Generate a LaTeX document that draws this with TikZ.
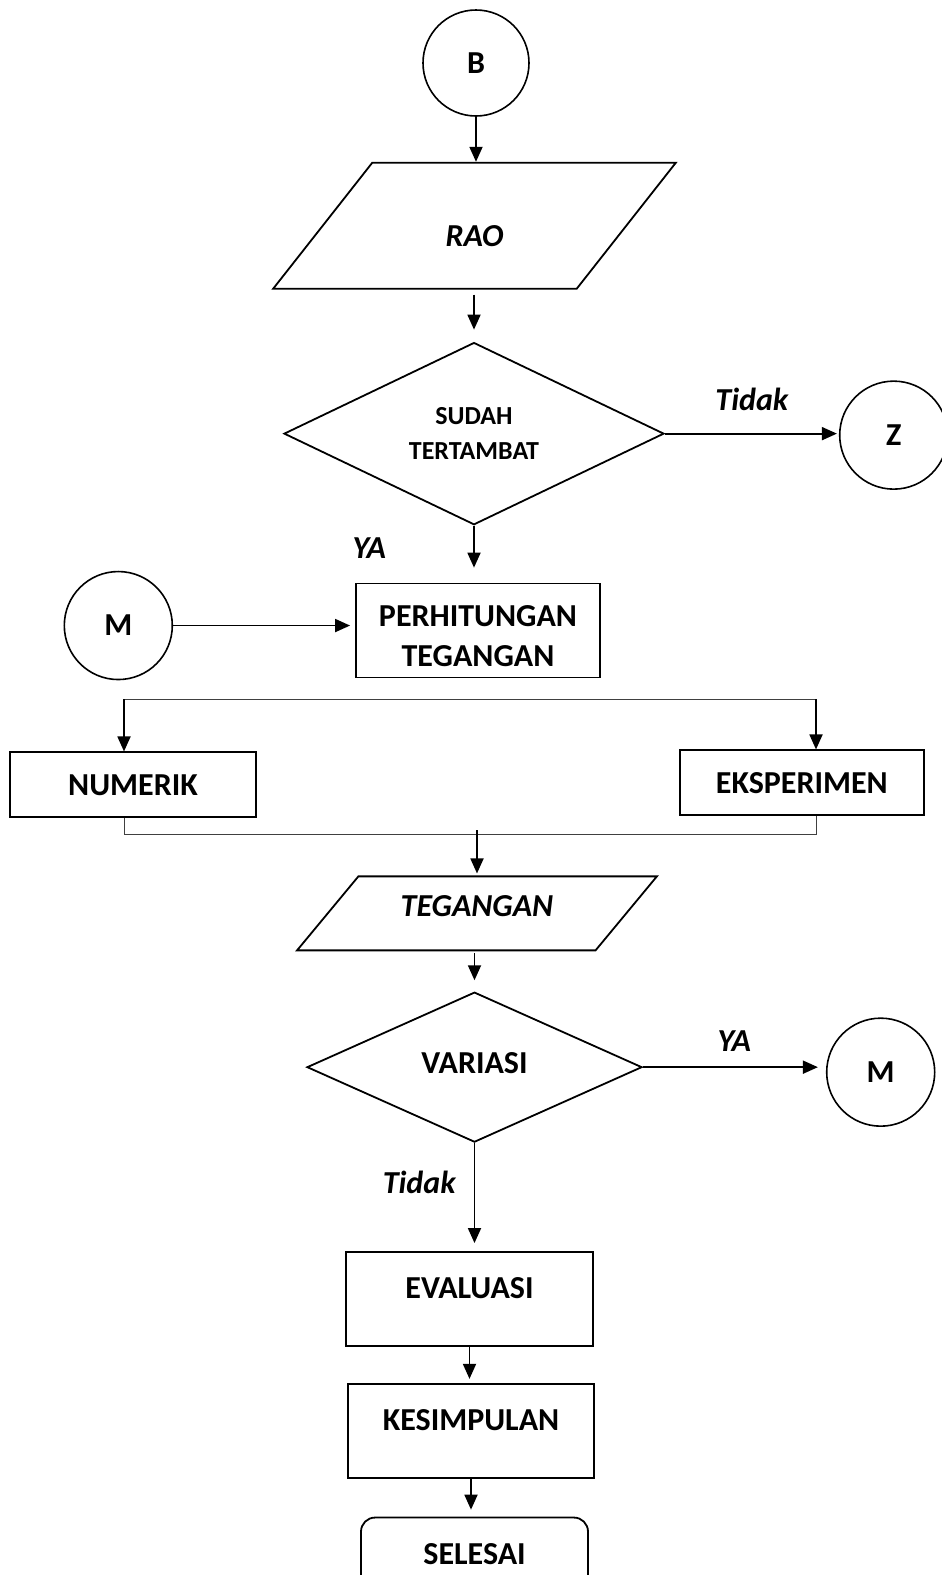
\documentclass[tikz,border=0pt]{standalone}
\usepackage{fontspec}
\setmainfont{Carlito}
\usetikzlibrary{shapes.geometric, arrows.meta, positioning}

\begin{document}
\begin{tikzpicture}[x=1pt, y=1pt,
  node distance=40pt,
  every node/.style={font=\bfseries\fontsize{32}{40}\selectfont},
  process/.style={rectangle, draw, line width=1.8pt,
                  minimum width=246pt, minimum height=94pt,
                  inner sep=4pt, align=center},
  connector/.style={circle, draw, line width=1.6pt,
                    minimum size=108pt, inner sep=0pt},
  io/.style={trapezium, draw, line width=1.8pt, trapezium stretches=true,
             inner sep=4pt, font=\bfseries\itshape\fontsize{32}{40}\selectfont},
  decision/.style={diamond, draw, line width=1.8pt, inner sep=0pt, align=center},
  terminal/.style={rectangle, rounded corners=14pt, draw, line width=1.8pt,
                   minimum width=227pt, minimum height=74pt},
  answer/.style={font=\bfseries\itshape\fontsize{32}{36}\selectfont, inner sep=2pt},
  flow/.style={-{Triangle[length=15pt, width=13pt]}, line width=1.8pt},
  branch/.style={line width=0.9pt, black!75},
]
  \useasboundingbox (0,0) rectangle (942,-1575);

  % input and first check
  \node[connector, minimum size=106pt] (b) at (476,-63) {B};
  \node[io, below=45pt of b, xshift=-1.5pt, minimum width=403pt, minimum height=126pt,
        trapezium left angle=57.4, trapezium right angle=122.6,
        text height=42pt, text depth=0pt] (rao) {RAO};
  \node[decision, below=52pt of rao, xshift=-0.5pt, minimum width=380pt, minimum height=177pt,
        font=\bfseries\fontsize{26}{35}\selectfont] (sudah) {SUDAH\\TERTAMBAT};
  \node[connector, right=174pt of sudah, yshift=-1.5pt] (z) {Z};
  \draw[flow] (b.south) -- (b.south |- rao.north);
  \draw[flow, shorten <=5pt, shorten >=12pt] (sudah.north |- rao.south) -- (sudah.north);
  \draw[flow, shorten >=2pt] (sudah.east) -- (sudah.east -| z.west)
    node[answer, midway, above=20pt] {Tidak};

  % stress calculation
  \node[process, below=57pt of sudah, xshift=4pt, minimum width=244pt,
        text height=72pt] (hitung) {PERHITUNGAN\\TEGANGAN};
  \node[connector, left=182pt of hitung, yshift=5pt] (m1) {M};
  \draw[flow, shorten >=15pt] (sudah.south) -- (sudah.south |- hitung.north)
    node[answer, pos=0.4, left=85pt] {YA};
  \draw[flow, shorten >=5pt] (m1.east) -- (m1.east -| hitung.west);

  % numerik / eksperimen
  \node[process, below=73pt of hitung, xshift=-345pt, minimum height=65pt] (numerik) {NUMERIK};
  \node[process, right=422pt of numerik, yshift=2pt, minimum width=244pt,
        minimum height=65pt] (eksp) {EKSPERIMEN};
  \coordinate (splitL) at (124,-699);
  \coordinate (splitR) at (816,-699);
  \coordinate (mergeL) at (124,-834);
  \coordinate (mergeR) at (816,-834);
  \coordinate (mergeM) at (477,-830);
  \draw[branch] (splitL) -- (splitR);
  \draw[flow] (splitL) -- (splitL |- numerik.north);
  \draw[flow] (splitR) -- (splitR |- eksp.north);
  \draw[branch] (mergeL |- numerik.south) -- (mergeL) -- (mergeR) -- (mergeR |- eksp.south);

  % output and variation check
  \node[io, below=197pt of hitung, xshift=-1pt, minimum width=360pt, minimum height=74pt,
        trapezium left angle=46, trapezium right angle=134,
        text depth=14pt] (tegangan) {TEGANGAN};
  \node[decision, below=40pt of tegangan, xshift=-2.5pt, minimum width=335pt,
        minimum height=150pt, text depth=8pt] (variasi) {VARIASI};
  \node[connector, right=183pt of variasi, yshift=-5pt] (m2) {M};
  \draw[flow, shorten >=2pt] (mergeM) -- (mergeM |- tegangan.north);
  \draw[flow, shorten <=2pt, shorten >=11pt] (variasi.north |- tegangan.south) -- (variasi.north);
  \draw[flow, shorten >=8pt] (variasi.east) -- (variasi.east -| m2.west)
    node[answer, midway, above=13pt] {YA};

  % evaluation and end
  \node[process, below=108pt of variasi, xshift=-5pt, minimum width=247pt,
        text depth=22pt] (evaluasi) {EVALUASI};
  \node[process, below=36pt of evaluasi, xshift=1.5pt, text depth=22pt] (kesimpulan) {KESIMPULAN};
  \node[terminal, below=38pt of kesimpulan, xshift=3.5pt] (selesai) {SELESAI};
  \draw[flow, shorten >=8pt] (variasi.south) -- (variasi.south |- evaluasi.north)
    node[answer, pos=0.36, left=16pt] {Tidak};
  \draw[flow, shorten >=4pt] (evaluasi.south) -- (evaluasi.south |- kesimpulan.north);
  \draw[flow, shorten >=7pt] (kesimpulan.south) -- (kesimpulan.south |- selesai.north);
\end{tikzpicture}
\end{document}
